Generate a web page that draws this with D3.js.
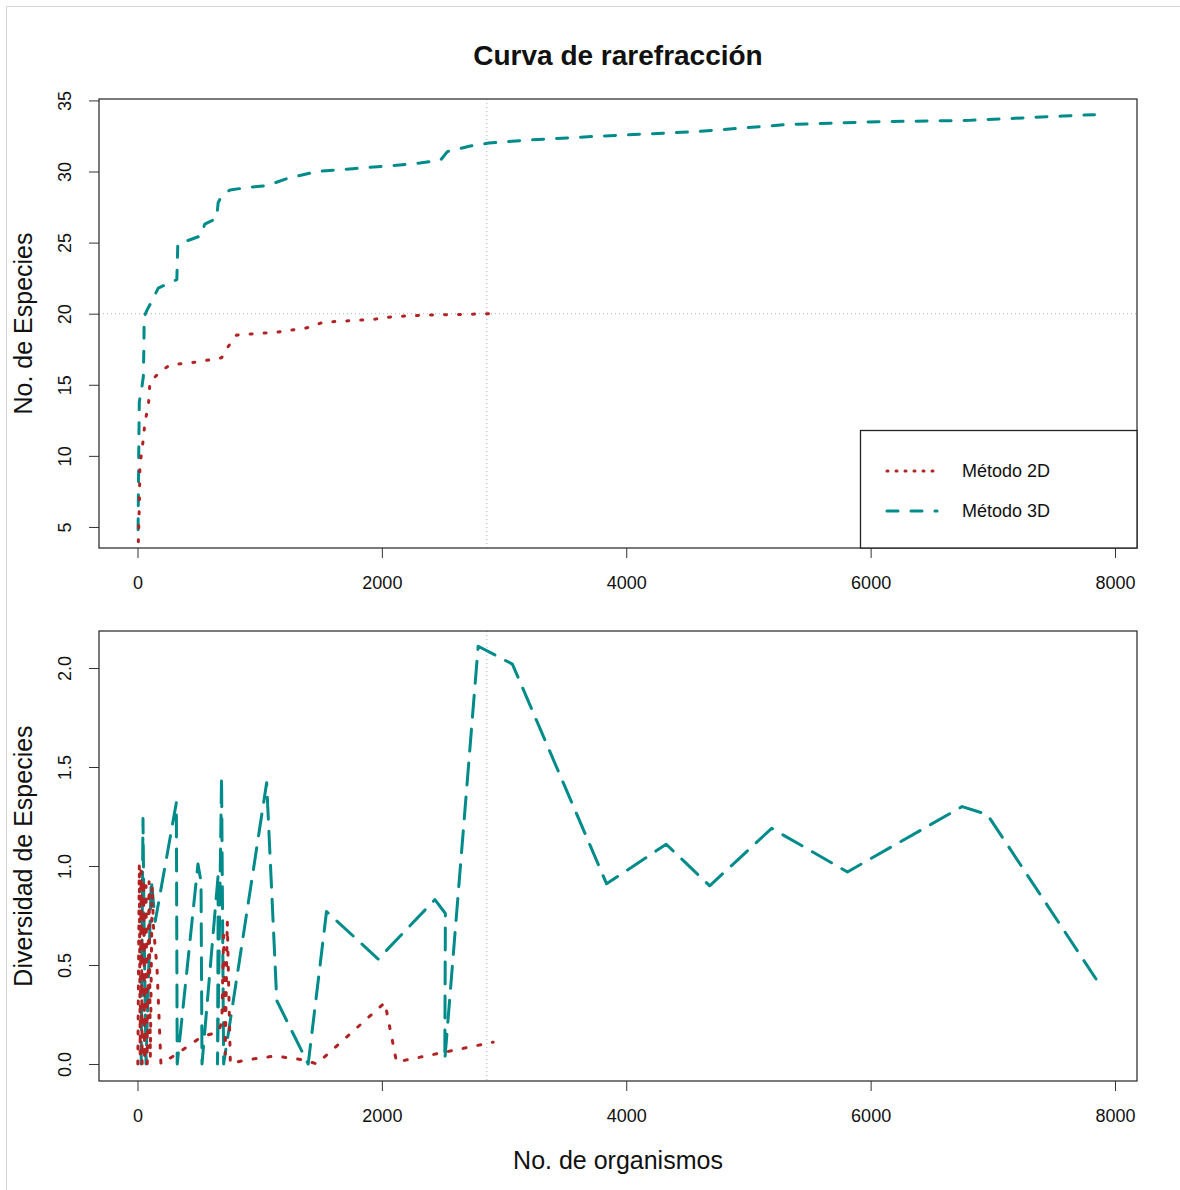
<!DOCTYPE html>
<html>
<head>
<meta charset="utf-8">
<script src="https://cdn.jsdelivr.net/npm/d3@7"></script>
<style>
  body { margin: 0; background: #fff; }
  svg { display: block; }
  text { font-family: "Liberation Sans", Arial, sans-serif; fill: #111; }
</style>
</head>
<body>
<svg id="chart"></svg>
<script>
var width = 1180;
var height = 1190;

// top panel: rarefaction curves
var rareX3D = [5, 10, 15, 34, 48, 52, 55, 75, 130, 170, 322, 330, 430, 525, 550, 648, 660, 689, 757, 920,
  1058, 1222, 1467, 1763, 2065, 2311, 2480, 2536, 2724, 2875, 3175, 3814, 4565, 5313, 6066, 6818, 7569, 7832];
var rareY3D = [4.8, 10.0, 13.8, 14.7, 15.6, 17.5, 19.8, 20.2, 21.1, 21.8, 22.4, 24.9, 25.2, 25.5, 26.3, 26.7, 27.8, 28.3, 28.7, 28.9,
  29.0, 29.5, 30.0, 30.2, 30.4, 30.6, 30.8, 31.4, 31.8, 32.0, 32.2, 32.5, 32.8, 33.3, 33.5, 33.6, 33.9, 34.0];
var rareX2D = [1, 7, 15, 20, 48, 61, 89, 102, 184, 266, 484, 688, 743, 811, 1139, 1384, 1520, 1929, 2093, 2386, 2911];
var rareY2D = [1, 4, 6.5, 9.3, 11.2, 12.4, 13.5, 15.2, 15.9, 16.4, 16.6, 16.9, 17.7, 18.5, 18.7, 19.0, 19.4, 19.6, 19.8, 19.9, 20.0];

// bottom panel: diversity
var divX3D = [30, 45, 55, 70, 113, 145, 318, 325, 495, 520, 528, 661, 655, 688, 705, 1057, 1140, 1397, 1547, 1970,
  2434, 2520, 2515, 2788, 3068, 3839, 4327, 4683, 5190, 5810, 6749, 6955, 7876];
var divY3D = [0, 1.24, 0.65, 0, 0.93, 0.72, 1.32, 0, 1.01, 0.92, 0, 0.96, 0, 1.45, 0, 1.42, 0.32, 0, 0.77, 0.53,
  0.83, 0.76, 0.02, 2.11, 2.02, 0.91, 1.11, 0.90, 1.19, 0.97, 1.30, 1.26, 0.40];
var divX2D = [3, 15, 22, 30, 38, 50, 58, 70, 80, 95, 105, 120, 130, 160, 192, 320, 530, 660, 690, 705, 718, 735, 760,
  880, 1125, 1370, 1466, 2025, 2120, 2911];
var divY2D = [0, 1.01, 0.05, 0.98, 0, 0.93, 0.02, 0.9, 0, 0.92, 0.03, 0.9, 0.7, 0.48, 0, 0.05, 0.14, 0.16, 0.21, 0.65, 0.05, 0.72, 0,
  0.02, 0.04, 0.02, 0, 0.31, 0.01, 0.11];

var xTicks = [0, 2000, 4000, 6000, 8000];
var yTicksTop = [5, 10, 15, 20, 25, 30, 35];
var yTicksBottom = [0, 0.5, 1.0, 1.5, 2.0];
var refX = 2859;   // vertical reference line
var refY = 20;     // horizontal reference line (top panel)
var legendLabels = ["Método 2D", "Método 3D"];

var color2D = "#b22222";
var color3D = "#008b8b";

var svg = d3.select("#chart").attr("width", width).attr("height", height);

// faint frame of the screenshot
svg.append("line").attr("x1", 6.5).attr("x2", width).attr("y1", 6.5).attr("y2", 6.5)
  .attr("stroke", "#d4d4d4");
svg.append("line").attr("x1", 6.5).attr("x2", 6.5).attr("y1", 6.5).attr("y2", height)
  .attr("stroke", "#d4d4d4");

var left = 99, right = 1137;
var x = d3.scaleLinear().domain([-315, 8180]).range([left, right]);

function zip(xs, ys) {
  return xs.map(function (v, i) { return [v, ys[i]]; });
}

function panel(id, top, bottom, yDomain, yTicks, yFormat, yTitle) {
  var y = d3.scaleLinear().domain(yDomain).range([bottom, top]);
  var g = svg.append("g");

  g.append("clipPath").attr("id", "clip-" + id)
    .append("rect").attr("x", left).attr("y", top)
    .attr("width", right - left).attr("height", bottom - top);

  var xAxis = g.append("g").attr("transform", "translate(0," + bottom + ")")
    .call(d3.axisBottom(x).tickValues(xTicks).tickSize(10).tickSizeOuter(0).tickFormat(d3.format("d")));
  xAxis.select(".domain").remove();
  xAxis.selectAll("line").attr("stroke", "#333");
  xAxis.selectAll("text").attr("y", 35).attr("dy", null)
    .attr("dominant-baseline", "central")
    .style("font-size", "18px").style("fill", "#111");

  var yAxis = g.append("g").attr("transform", "translate(" + left + ",0)")
    .call(d3.axisLeft(y).tickValues(yTicks).tickSize(10).tickSizeOuter(0).tickFormat(yFormat));
  yAxis.select(".domain").remove();
  yAxis.selectAll("line").attr("stroke", "#333");
  yAxis.selectAll("text")
    .attr("x", 0).attr("y", -34).attr("dy", null)
    .attr("transform", "rotate(-90)")
    .attr("text-anchor", "middle")
    .attr("dominant-baseline", "central")
    .style("font-size", "18px").style("fill", "#111");

  g.append("text")
    .attr("transform", "translate(23," + ((top + bottom) / 2) + ") rotate(-90)")
    .attr("text-anchor", "middle")
    .attr("dominant-baseline", "central")
    .style("font-size", "25px")
    .text(yTitle);

  var plot = g.append("g").attr("clip-path", "url(#clip-" + id + ")");

  plot.append("line")
    .attr("x1", x(refX)).attr("x2", x(refX))
    .attr("y1", top).attr("y2", bottom)
    .attr("stroke", "#b4b4b4").attr("stroke-dasharray", "1,3");

  return { g: g, y: y, plot: plot, top: top, bottom: bottom };
}

function drawLine(p, xs, ys, color, dash) {
  var line = d3.line()
    .x(function (d) { return x(d[0]); })
    .y(function (d) { return p.y(d[1]); });
  p.plot.append("path")
    .datum(zip(xs, ys))
    .attr("d", line)
    .attr("fill", "none")
    .attr("stroke", color)
    .attr("stroke-width", 3)
    .attr("stroke-linecap", "round")
    .attr("stroke-linejoin", "round")
    .attr("stroke-dasharray", dash);
}

function frame(p) {
  p.g.append("rect")
    .attr("x", left).attr("y", p.top)
    .attr("width", right - left).attr("height", p.bottom - p.top)
    .attr("fill", "none").attr("stroke", "#333").attr("stroke-width", 1.3);
}

// ---- top panel
var topP = panel("top", 99, 548, [3.52, 35.1], yTicksTop, d3.format("d"), "No. de Especies");
topP.plot.append("line")
  .attr("x1", left).attr("x2", right)
  .attr("y1", topP.y(refY)).attr("y2", topP.y(refY))
  .attr("stroke", "#b4b4b4").attr("stroke-dasharray", "1,3");
drawLine(topP, rareX3D, rareY3D, color3D, "11,13");
drawLine(topP, rareX2D, rareY2D, color2D, "2,12");
frame(topP);

// legend
var lg = topP.g.append("g");
lg.append("rect")
  .attr("x", 860.5).attr("y", 430.5).attr("width", right - 860.5).attr("height", 548 - 430.5)
  .attr("fill", "#fff").attr("stroke", "#222").attr("stroke-width", 1.3);
[[color2D, "1,8"], [color3D, "11,13"]].forEach(function (st, i) {
  var ly = 471 + i * 40;
  lg.append("line")
    .attr("x1", 887).attr("x2", 937).attr("y1", ly).attr("y2", ly)
    .attr("stroke", st[0]).attr("stroke-width", 3)
    .attr("stroke-linecap", "round")
    .attr("stroke-dasharray", st[1]);
  lg.append("text")
    .attr("x", 962).attr("y", ly)
    .attr("dominant-baseline", "central")
    .style("font-size", "18px")
    .text(legendLabels[i]);
});

// ---- bottom panel
var botP = panel("bottom", 631, 1081, [-0.086, 2.187], yTicksBottom, d3.format(".1f"), "Diversidad de Especies");
drawLine(botP, divX3D, divY3D, color3D, "22,12");
drawLine(botP, divX2D, divY2D, color2D, "3,12");
frame(botP);

svg.append("text")
  .attr("x", (left + right) / 2).attr("y", 1160)
  .attr("text-anchor", "middle").attr("dominant-baseline", "central")
  .style("font-size", "25px")
  .text("No. de organismos");

svg.append("text")
  .attr("x", (left + right) / 2).attr("y", 55)
  .attr("text-anchor", "middle").attr("dominant-baseline", "central")
  .style("font-size", "28px").style("font-weight", "bold")
  .text("Curva de rarefracción");
</script>
</body>
</html>
